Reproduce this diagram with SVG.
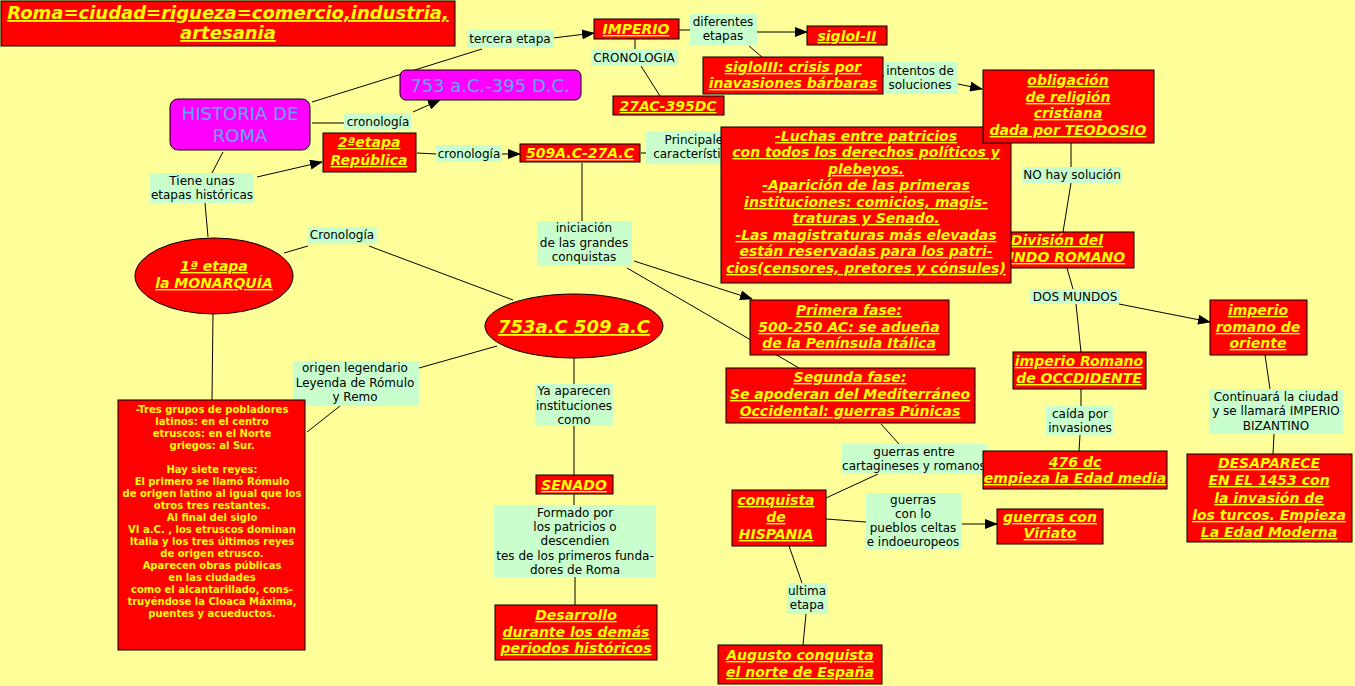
<svg xmlns="http://www.w3.org/2000/svg" width="1355" height="686" viewBox="0 0 1355 686" xml:space="preserve">
<defs>
<style>
.box{fill:#FF0000;stroke:#000;stroke-width:1}
.mag{fill:#FF00FF;stroke:#000;stroke-width:1}
.bt{font-family:"DejaVu Sans",Verdana,sans-serif;font-size:14px;font-weight:bold;font-style:italic;fill:#FFFF00;text-decoration:underline;text-anchor:middle}
.big{font-size:18px}
.mt{font-family:"DejaVu Sans",Verdana,sans-serif;font-size:18px;fill:#5FA8FF;text-anchor:middle}
.st{font-family:"DejaVu Sans",Verdana,sans-serif;font-size:10px;font-weight:bold;fill:#FFFF00;text-anchor:middle}
.lab{fill:#C8FFCC}
.lt{font-family:"DejaVu Sans",Verdana,sans-serif;font-size:12px;fill:#000;text-anchor:middle}
.cn line{stroke:#000;stroke-width:1}
.ar{marker-end:url(#arrow)}
</style>
<marker id="arrow" markerUnits="userSpaceOnUse" markerWidth="13" markerHeight="10" refX="12" refY="5" orient="auto"><path d="M0,0 L13,5 L0,10 z" fill="#000"/></marker>
</defs>
<rect x="0" y="0" width="1355" height="686" fill="#FFFF99"/>
<g id="connectors" class="cn">
<line x1="312" y1="102" x2="482" y2="49"/>
<line class="ar" x1="553" y1="38" x2="594" y2="33"/>
<line x1="312" y1="123" x2="344" y2="123"/>
<line class="ar" x1="413" y1="112" x2="440" y2="100"/>
<line x1="223" y1="152" x2="212" y2="173"/>
<line class="ar" x1="257" y1="177" x2="322" y2="162"/>
<line x1="205" y1="203" x2="208" y2="237"/>
<line x1="284" y1="253" x2="308" y2="246"/>
<line x1="369" y1="246" x2="513" y2="300"/>
<line x1="213" y1="314" x2="212" y2="400"/>
<line x1="497" y1="346" x2="419" y2="368"/>
<line x1="340" y1="406" x2="307" y2="432"/>
<line x1="574" y1="358" x2="574" y2="384"/>
<line x1="574" y1="426" x2="574" y2="475"/>
<line x1="574" y1="494" x2="574" y2="505"/>
<line x1="575" y1="577" x2="575" y2="605"/>
<line x1="417" y1="153" x2="436" y2="154"/>
<line class="ar" x1="502" y1="154" x2="520" y2="154"/>
<line x1="641" y1="153" x2="646" y2="153"/>
<line x1="582" y1="163" x2="582" y2="221"/>
<line class="ar" x1="634" y1="261" x2="752" y2="299"/>
<line x1="627" y1="268" x2="799" y2="368"/>
<line x1="881" y1="424" x2="899" y2="444"/>
<line x1="878" y1="474" x2="826" y2="498"/>
<line x1="826" y1="519" x2="866" y2="522"/>
<line class="ar" x1="962" y1="524" x2="997" y2="524"/>
<line x1="789" y1="546" x2="802" y2="583"/>
<line x1="806" y1="614" x2="803" y2="645"/>
<line x1="679" y1="30" x2="690" y2="30"/>
<line class="ar" x1="757" y1="32" x2="807" y2="32"/>
<line x1="749" y1="46" x2="762" y2="57"/>
<line x1="635" y1="39" x2="635" y2="49"/>
<line x1="641" y1="66" x2="660" y2="96"/>
<line x1="883" y1="76" x2="884" y2="76"/>
<line class="ar" x1="958" y1="84" x2="982" y2="89"/>
<line x1="1071" y1="143" x2="1071" y2="167"/>
<line x1="1071" y1="183" x2="1063" y2="232"/>
<line x1="1067" y1="268" x2="1073" y2="289"/>
<line class="ar" x1="1119" y1="304" x2="1210" y2="322"/>
<line x1="1076" y1="304" x2="1081" y2="352"/>
<line x1="1081" y1="389" x2="1081" y2="406"/>
<line x1="1080" y1="435" x2="1079" y2="451"/>
<line x1="1265" y1="355" x2="1270" y2="389"/>
<line x1="1274" y1="434" x2="1273" y2="454"/>
</g>
<g id="labels">
<g id="l-tercera"><rect class="lab" x="467" y="30" width="87" height="18"/><text class="lt" x="510" y="43">tercera etapa</text></g>
<g id="l-diferentes"><rect class="lab" x="690" y="14" width="67" height="31"/><text class="lt" x="723" y="26">diferentes</text><text class="lt" x="723" y="40">etapas</text></g>
<g id="l-cronologia3"><rect class="lab" x="591" y="49" width="87" height="17"/><text class="lt" x="634" y="62">CRONOLOGIA</text></g>
<g id="l-intentos"><rect class="lab" x="884" y="62" width="74" height="32"/><text class="lt" x="920" y="75">intentos de</text><text class="lt" x="920" y="89">soluciones</text></g>
<g id="l-cronologia1"><rect class="lab" x="344" y="113" width="67" height="17"/><text class="lt" x="378" y="126">cronología</text></g>
<g id="l-cronologia2"><rect class="lab" x="436" y="145" width="66" height="17"/><text class="lt" x="469" y="158">cronología</text></g>
<g id="l-principales"><rect class="lab" x="646" y="131" width="80" height="33"/><text class="lt" x="697" y="144">Principales</text><text class="lt" x="697" y="158">características</text></g>
<g id="l-tiene"><rect class="lab" x="150" y="173" width="104" height="30"/><text class="lt" x="202" y="185">Tiene unas</text><text class="lt" x="202" y="199">etapas históricas</text></g>
<g id="l-cronologia-m"><rect class="lab" x="308" y="227" width="69" height="17"/><text class="lt" x="342" y="239">Cronología</text></g>
<g id="l-iniciacion"><rect class="lab" x="537" y="221" width="95" height="45"/><text class="lt" x="584" y="232">iniciación</text><text class="lt" x="584" y="247">de las grandes</text><text class="lt" x="584" y="261">conquistas</text></g>
<g id="l-origen"><rect class="lab" x="293" y="361" width="126" height="45"/><text class="lt" x="355" y="372">origen legendario</text><text class="lt" x="355" y="387">Leyenda de Rómulo</text><text class="lt" x="355" y="401">y Remo</text></g>
<g id="l-ya"><rect class="lab" x="535" y="384" width="78" height="42"/><text class="lt" x="574" y="395">Ya aparecen</text><text class="lt" x="574" y="410">instituciones</text><text class="lt" x="574" y="424">como</text></g>
<g id="l-formado"><rect class="lab" x="494" y="505" width="162" height="72"/><text class="lt" x="575" y="517">Formado por</text><text class="lt" x="575" y="531">los patricios o</text><text class="lt" x="575" y="545">descendien</text><text class="lt" x="575" y="560">tes de los primeros funda-</text><text class="lt" x="575" y="574">dores de Roma</text></g>
<g id="l-nohay"><rect class="lab" x="1022" y="167" width="100" height="16"/><text class="lt" x="1072" y="179">NO hay solución</text></g>
<g id="l-dos"><rect class="lab" x="1030" y="289" width="89" height="15"/><text class="lt" x="1075" y="301">DOS MUNDOS</text></g>
<g id="l-caida"><rect class="lab" x="1046" y="406" width="67" height="29"/><text class="lt" x="1080" y="418">caída por</text><text class="lt" x="1080" y="432">invasiones</text></g>
<g id="l-continuara"><rect class="lab" x="1209" y="389" width="134" height="45"/><text class="lt" x="1276" y="401">Continuará la ciudad</text><text class="lt" x="1276" y="415">y se llamará IMPERIO</text><text class="lt" x="1276" y="430">BIZANTINO</text></g>
<g id="l-guerras-entre"><rect class="lab" x="842" y="444" width="145" height="30"/><text class="lt" x="914" y="456">guerras entre</text><text class="lt" x="914" y="470">cartagineses y romanos</text></g>
<g id="l-guerras-celtas"><rect class="lab" x="866" y="493" width="96" height="56"/><text class="lt" x="913" y="504">guerras</text><text class="lt" x="913" y="518">con lo</text><text class="lt" x="913" y="532">pueblos celtas</text><text class="lt" x="913" y="546">e indoeuropeos</text></g>
<g id="l-ultima"><rect class="lab" x="787" y="583" width="41" height="31"/><text class="lt" x="807" y="595">ultima</text><text class="lt" x="807" y="609">etapa</text></g>
</g>
<g id="n-title"><rect class="box" x="1" y="1" width="454" height="45"/><text class="bt big" x="228" y="19">Roma=ciudad=rigueza=comercio,industria,</text><text class="bt big" x="228" y="39">artesania</text></g>
<g id="n-historia"><rect class="mag" x="170" y="99" width="140" height="51" rx="8"/><text class="mt" x="240" y="120">HISTORIA DE</text><text class="mt" x="240" y="142">ROMA</text></g>
<g id="n-fechas"><rect class="mag" x="400" y="70" width="181" height="30" rx="6"/><text class="mt" x="490" y="92">753 a.C.-395 D.C.</text></g>
<g id="n-republica"><rect class="box" x="323" y="133" width="93" height="39"/><text class="bt" x="369" y="147">2ªetapa</text><text class="bt" x="369" y="165"> República</text></g>
<g id="n-509"><rect class="box" x="520" y="144" width="120" height="18"/><text class="bt" x="580" y="158">509A.C-27A.C</text></g>
<g id="n-imperio"><rect class="box" x="594" y="19" width="85" height="20"/><text class="bt" x="636" y="34">IMPERIO</text></g>
<g id="n-siglo1"><rect class="box" x="807" y="26" width="80" height="19"/><text class="bt" x="847" y="41">sigloI-II</text></g>
<g id="n-siglo3"><rect class="box" x="703" y="57" width="180" height="37"/><text class="bt" x="793" y="72">sigloIII: crisis por</text><text class="bt" x="793" y="88">inavasiones bárbaras</text></g>
<g id="n-27ac"><rect class="box" x="613" y="96" width="111" height="19"/><text class="bt" x="668" y="111">27AC-395DC</text></g>
<g id="n-division"><rect class="box" x="980" y="232" width="154" height="36"/><text class="bt" x="1057" y="245">División del</text><text class="bt" x="1057" y="262">MUNDO ROMANO</text></g>
<g id="n-caracteristicas"><rect class="box" x="721" y="127" width="290" height="156"/><text class="bt" x="866" y="141">-Luchas entre patricios </text><text class="bt" x="866" y="157">con todos los derechos políticos y </text><text class="bt" x="866" y="174">plebeyos.</text><text class="bt" x="866" y="190">-Aparición de las primeras </text><text class="bt" x="866" y="207">instituciones: comicios, magis-</text><text class="bt" x="866" y="223">traturas y Senado.</text><text class="bt" x="866" y="240">-Las magistraturas  más elevadas</text><text class="bt" x="866" y="256">están reservadas para los patri-</text><text class="bt" x="866" y="273">cios(censores, pretores y cónsules)</text></g>
<g id="n-obligacion"><rect class="box" x="983" y="70" width="171" height="73"/><text class="bt" x="1068" y="85">obligación</text><text class="bt" x="1068" y="102">de religión </text><text class="bt" x="1068" y="118">cristiana </text><text class="bt" x="1068" y="135">dada por TEODOSIO</text></g>
<g id="n-primera"><rect class="box" x="750" y="300" width="199" height="55"/><text class="bt" x="849" y="315">Primera fase:</text><text class="bt" x="849" y="332">500-250 AC: se adueña </text><text class="bt" x="849" y="348">de la Península Itálica</text></g>
<g id="n-segunda"><rect class="box" x="726" y="368" width="249" height="55"/><text class="bt" x="850" y="382">Segunda fase:</text><text class="bt" x="850" y="399">Se apoderan del Mediterráneo</text><text class="bt" x="850" y="416">Occidental: guerras Púnicas</text></g>
<g id="n-hispania"><rect class="box" x="732" y="490" width="94" height="56"/><text class="bt" x="776" y="505">conquista </text><text class="bt" x="776" y="522">de</text><text class="bt" x="776" y="539">HISPANIA</text></g>
<g id="n-viriato"><rect class="box" x="997" y="509" width="106" height="35"/><text class="bt" x="1050" y="522">guerras con</text><text class="bt" x="1050" y="538">Viriato</text></g>
<g id="n-augusto"><rect class="box" x="718" y="645" width="164" height="39"/><text class="bt" x="800" y="660">Augusto conquista </text><text class="bt" x="800" y="677">el norte de España</text></g>
<g id="n-oriente"><rect class="box" x="1210" y="300" width="97" height="55"/><text class="bt" x="1258" y="315">imperio </text><text class="bt" x="1258" y="332">romano de</text><text class="bt" x="1258" y="348">oriente</text></g>
<g id="n-occidente"><rect class="box" x="1013" y="352" width="133" height="37"/><text class="bt" x="1079" y="366">imperio Romano</text><text class="bt" x="1079" y="383">de OCCDIDENTE</text></g>
<g id="n-476"><rect class="box" x="983" y="451" width="184" height="38"/><text class="bt" x="1075" y="467">476 dc </text><text class="bt" x="1075" y="483">empieza la Edad media</text></g>
<g id="n-desaparece"><rect class="box" x="1187" y="454" width="165" height="88"/><text class="bt" x="1269" y="468">DESAPARECE</text><text class="bt" x="1269" y="485">EN EL 1453 con </text><text class="bt" x="1269" y="503">la invasión de </text><text class="bt" x="1269" y="520">los turcos. Empieza</text><text class="bt" x="1269" y="537">La Edad Moderna</text></g>
<g id="n-monarquia"><ellipse class="box" cx="214" cy="276" rx="79" ry="38"/><text class="bt" x="214" y="271">1ª etapa </text><text class="bt" x="214" y="288">la  MONARQUÍA</text></g>
<g id="n-753"><ellipse class="box" cx="574" cy="326" rx="89" ry="32"/><text class="bt big" x="574" y="333">753a.C 509 a.C</text></g>
<g id="n-monarquia-texto"><rect class="box" x="118" y="400" width="187" height="250"/><text class="st" x="212" y="413">-Tres grupos de pobladores</text><text class="st" x="212" y="425">latinos: en el centro</text><text class="st" x="212" y="437">etruscos: en el Norte</text><text class="st" x="212" y="449">griegos: al Sur.</text><text class="st" x="212" y="473">Hay siete reyes:</text><text class="st" x="212" y="485">El primero se llamó Rómulo</text><text class="st" x="212" y="497">de origen latino al igual que los</text><text class="st" x="212" y="509">otros tres restantes.</text><text class="st" x="212" y="521">Al final del siglo</text><text class="st" x="212" y="533">VI a.C. , los etruscos dominan</text><text class="st" x="212" y="545">Italia y los tres últimos reyes</text><text class="st" x="212" y="557">de origen etrusco.</text><text class="st" x="212" y="569">Aparecen obras públicas</text><text class="st" x="212" y="581">en las ciudades</text><text class="st" x="212" y="593">como el alcantarillado, cons-</text><text class="st" x="212" y="605">truyéndose la Cloaca Máxima,</text><text class="st" x="212" y="617">puentes y acueductos.</text></g>
<g id="n-senado"><rect class="box" x="536" y="475" width="77" height="19"/><text class="bt" x="574" y="490">SENADO</text></g>
<g id="n-desarrollo"><rect class="box" x="495" y="605" width="162" height="55"/><text class="bt" x="576" y="620">Desarrollo </text><text class="bt" x="576" y="637">durante los demás</text><text class="bt" x="576" y="653">periodos históricos</text></g>
</svg>
